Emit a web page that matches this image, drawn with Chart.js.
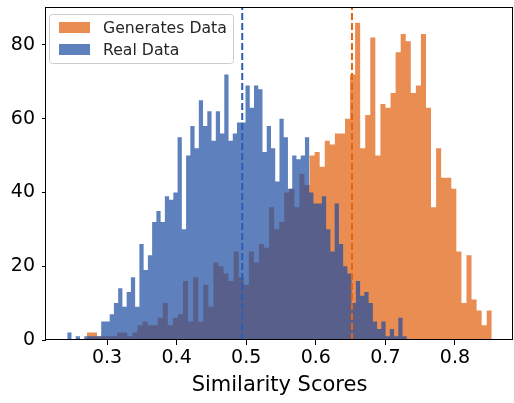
<!DOCTYPE html>
<html>
<head>
<meta charset="utf-8">
<script src="https://cdn.jsdelivr.net/npm/chart.js@4.4.0/dist/chart.umd.min.js"></script>
<style>
  body { margin: 0; background: #fff; }
  canvas { display: block; }
</style>
</head>
<body>
<canvas id="chart" width="514" height="403"></canvas>
<script>
// histogram counts, 80 bins each
const realCounts = [
  2, 0, 1, 0, 1, 1, 1, 1, 5, 5,
  7, 10, 14, 9, 13, 17, 9, 26, 19, 23,
  32, 35, 32, 39, 38, 40, 55, 30, 50, 58,
  52, 65, 58, 62, 54, 62, 56, 72, 54, 56,
  59, 59, 69, 63, 69, 68, 51, 58, 52, 43,
  60, 55, 41, 50, 49, 50, 55, 40, 37, 37,
  39, 30, 24, 37, 26, 20, 18, 10, 16, 12,
  13, 10, 5, 3, 5, 1, 3, 1, 6, 1
];
const genCounts = [
  2, 2, 1, 1, 1, 1, 2, 2, 1, 2,
  4, 5, 4, 4, 6, 10, 4, 6, 7, 16,
  5, 17, 5, 15, 9, 21, 20, 18, 16, 24,
  17, 15, 24, 21, 26, 25, 36, 30, 32, 40,
  41, 36, 45, 42, 50, 51, 47, 54, 53, 56,
  56, 60, 72, 86, 52, 61, 82, 50, 64, 63,
  67, 78, 83, 81, 67, 69, 83, 63, 36, 52,
  44, 44, 41, 24, 10, 23, 11, 8, 4, 8
];
const realRange = [0.2428, 0.7308];
const genRange = [0.2710, 0.8529];
const meanLines = [0.4943, 0.652]; // real, generated
const labels = ["Generates Data", "Real Data"];
const xTicks = [0.3, 0.4, 0.5, 0.6, 0.7, 0.8];
const yTicks = [0, 20, 40, 60, 80];
const xLimits = [0.2123, 0.8834];
const yLimits = [0, 90.3];

const FONT = "DejaVu Sans";
const orange = "rgb(233,141,83)";
const blue = "rgba(25,75,162,0.7)";

// bin edges -> step points (last edge repeats last count so the step closes)
function toSteps(counts, range) {
  const w = (range[1] - range[0]) / counts.length;
  const pts = counts.map((c, i) => ({ x: range[0] + i * w, y: c }));
  pts.push({ x: range[1], y: counts[counts.length - 1] });
  return pts;
}

// matplotlib style: full frame + legend box inside the axes
const framePlugin = {
  id: "frame",
  afterDatasetsDraw(chart) {
    const { ctx, chartArea: a } = chart;
    ctx.save();
    ctx.strokeStyle = "#000";
    ctx.lineWidth = 1;
    ctx.strokeRect(a.left - 0.5, a.top + 0.5, a.right - a.left, a.bottom - a.top - 1);
    ctx.restore();
  },
  afterDraw(chart) {
    const { ctx } = chart;
    const items = chart.data.datasets.filter(d => d.label);
    ctx.save();
    const x0 = 49.5, y0 = 14.5, w = 184, h = 49, r = 3;
    ctx.beginPath();
    ctx.roundRect(x0, y0, w, h, r);
    ctx.fillStyle = "rgba(255,255,255,0.8)";
    ctx.fill();
    ctx.strokeStyle = "#cccccc";
    ctx.lineWidth = 1;
    ctx.stroke();
    ctx.font = "15.7px '" + FONT + "'";
    ctx.textBaseline = "alphabetic";
    items.forEach((d, i) => {
      const y = 22 + i * 22;
      ctx.fillStyle = d.backgroundColor;
      ctx.fillRect(59, y, 31, 11);
      ctx.fillStyle = "#262626";
      ctx.fillText(d.label, 103, y + 11);
    });
    ctx.restore();
  }
};

const hist = (label, counts, range, color, order) => ({
  type: "line",
  label: label,
  data: toSteps(counts, range),
  stepped: "before",
  fill: "origin",
  backgroundColor: color,
  borderWidth: 0,
  borderColor: "rgba(0,0,0,0)",
  pointRadius: 0,
  order: order
});

const vline = (x, color) => ({
  type: "line",
  data: [{ x: x, y: yLimits[0] }, { x: x, y: yLimits[1] }],
  borderColor: color,
  borderWidth: 2,
  borderDash: [7, 3],
  pointRadius: 0,
  fill: false,
  order: 0
});

new Chart(document.getElementById("chart"), {
  type: "line",
  data: {
    datasets: [
      hist(labels[0], genCounts, genRange, orange, 2),
      hist(labels[1], realCounts, realRange, blue, 1),
      vline(meanLines[0], "#2c5db4"),
      vline(meanLines[1], "#e8650f")
    ]
  },
  options: {
    responsive: false,
    devicePixelRatio: 1,
    animation: false,
    layout: { padding: { left: 0, right: 1, top: 7, bottom: 0 } },
    plugins: { legend: { display: false }, tooltip: { enabled: false } },
    scales: {
      x: {
        type: "linear",
        min: xLimits[0],
        max: xLimits[1],
        afterBuildTicks: s => { s.ticks = xTicks.map(v => ({ value: v })); },
        ticks: {
          color: "#000",
          font: { family: FONT, size: 19 },
          padding: 2,
          maxRotation: 0,
          autoSkip: false,
          callback: v => v.toFixed(1)
        },
        grid: { drawOnChartArea: false, tickLength: 5, color: "#000" },
        border: { display: false },
        title: {
          display: true,
          text: "Similarity Scores",
          color: "#000",
          font: { family: FONT, size: 21 },
          padding: { top: 0, bottom: 5 }
        },
        afterFit: s => { s.height = 63; s.paddingLeft = 0; s.paddingRight = 0; }
      },
      y: {
        min: yLimits[0],
        max: yLimits[1],
        afterBuildTicks: s => { s.ticks = yTicks.map(v => ({ value: v })); },
        ticks: { color: "#000", font: { family: FONT, size: 19 }, padding: 7 },
        grid: { drawOnChartArea: false, tickLength: 4, color: "#000" },
        border: { display: false },
        afterFit: s => { s.width = 46; s.paddingTop = 0; s.paddingBottom = 0; }
      }
    }
  },
  plugins: [framePlugin]
});
</script>
</body>
</html>
